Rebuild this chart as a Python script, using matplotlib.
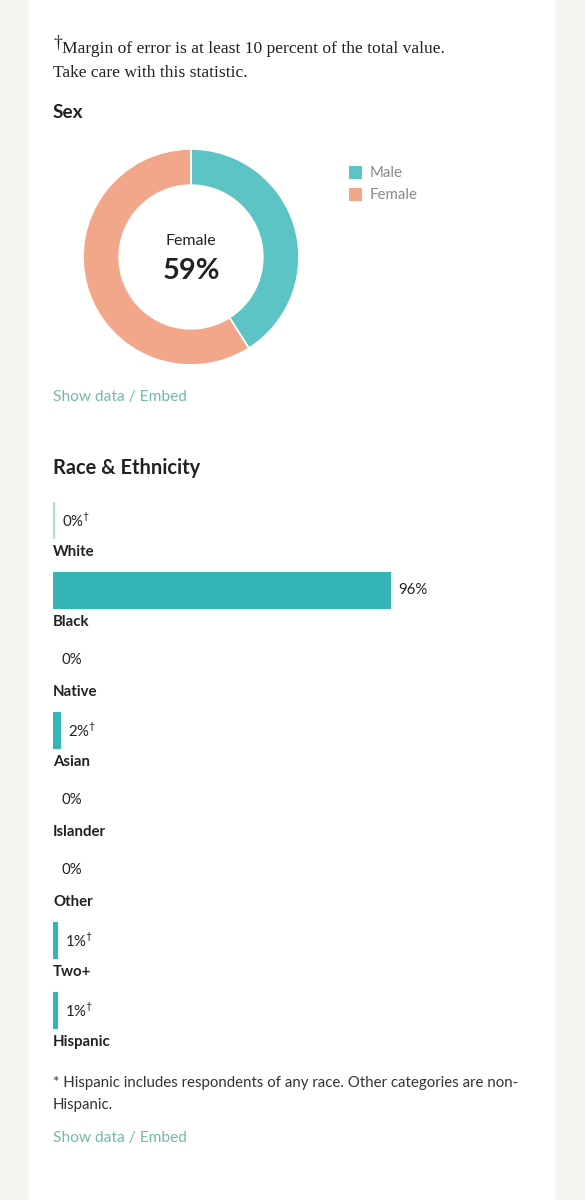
import matplotlib.pyplot as plt
from matplotlib.patches import Rectangle

# ---- data ----
sex_labels = ["Male", "Female"]
sex_values = [41, 59]
sex_colors = ["#5cc4c4", "#f2a68a"]

race_bar_values = [0.3, 96, 0, 2, 0, 0, 1, 1]
race_bar_text = ["0%", "96%", "0%", "2%", "0%", "0%", "1%", "1%"]
race_moe_flag = [True, False, False, True, False, False, True, True]
race_categories = ["White", "Black", "Native", "Asian", "Islander", "Other", "Two+", "Hispanic"]
race_bar_colors = ["#a9dcd9"] + ["#35b5b5"] * 7

W, H = 585, 1200
SANS = "Lato"
SERIF = "Liberation Serif"
DARK = "#222222"
LINK = "#74b9aa"

plt.rcParams["mathtext.fontset"] = "custom"
plt.rcParams["mathtext.rm"] = SANS


def pt(px):
    return px * 0.72


fig = plt.figure(figsize=(W / 100, H / 100), dpi=100, facecolor="#f5f6f1")
base = fig.add_axes([0, 0, 1, 1])
base.set_xlim(0, W)
base.set_ylim(H, 0)
base.axis("off")
base.add_patch(Rectangle((29, 0), 526, H, facecolor="white", edgecolor="none"))

# footnote at top
base.text(53, 48, "†", fontsize=pt(18), family=SERIF, color=DARK, va="baseline")
base.text(62, 53, "Margin of error is at least 10 percent of the total value.",
          fontsize=pt(17.5), family=SERIF, color=DARK, va="baseline")
base.text(53, 77, "Take care with this statistic.",
          fontsize=pt(17.5), family=SERIF, color=DARK, va="baseline")

base.text(53, 112, "Sex", fontsize=pt(19), family=SANS, weight="bold", color=DARK, va="center")

# donut
cx, cy, r = 191, 257, 108
dax = fig.add_axes([(cx - r) / W, 1 - (cy + r) / H, 2 * r / W, 2 * r / H])
dax.pie(sex_values, colors=sex_colors, startangle=90, counterclock=False,
        radius=1, wedgeprops=dict(width=0.335, edgecolor="white", linewidth=1.2))
dax.set_aspect("equal")
dax.set_xlim(-1, 1)
dax.set_ylim(-1, 1)
dax.text(0, 0.15, sex_labels[1], ha="center", va="center", fontsize=pt(16), family=SANS, color=DARK)
dax.text(0, -0.13, f"{sex_values[1]}%", ha="center", va="center", fontsize=pt(29),
         family=SANS, weight="bold", color=DARK)

# legend
for i, (lab, col) in enumerate(zip(sex_labels, sex_colors)):
    y = 172 + i * 22
    base.add_patch(Rectangle((349, y - 6.5), 13, 13, facecolor=col, edgecolor="none"))
    base.text(370, y + 1, lab, fontsize=pt(15), family=SANS, color="#8a8a8a", va="center")

base.text(53, 397, "Show data / Embed", fontsize=pt(15.5), family=SANS, color=LINK, va="center")

base.text(53, 468, "Race & Ethnicity", fontsize=pt(20), family=SANS, weight="bold", color=DARK, va="center")

# bars
row = 70
top = 520 - row / 2
n = len(race_bar_values)
bax = fig.add_axes([53 / W, 1 - (top + n * row) / H, 351 / W, n * row / H])
bax.set_xlim(0, 100)
bax.set_ylim(n - 0.5, -0.5)
bax.axis("off")
ypos = list(range(n))
edge_colors = [c if v > 0 else "none" for v, c in zip(race_bar_values, race_bar_colors)]
bax.barh(ypos, race_bar_values, height=36 / row, color=race_bar_colors,
         edgecolor=edge_colors, linewidth=0.8)
for i in ypos:
    lab = race_bar_text[i] + (r"$^{\dag}$" if race_moe_flag[i] else "")
    bax.annotate(lab, (race_bar_values[i], i), xytext=(6, 0), textcoords="offset points",
                 va="center", ha="left", fontsize=pt(15), family=SANS, color=DARK)
    bax.text(0, i + 32 / row, race_categories[i], va="center", ha="left",
             fontsize=pt(15), family=SANS, weight="bold", color=DARK)

base.text(53, 1083, "* Hispanic includes respondents of any race. Other categories are non-",
          fontsize=pt(15), family=SANS, color="#333333", va="center")
base.text(53, 1105, "Hispanic.", fontsize=pt(15), family=SANS, color="#333333", va="center")
base.text(53, 1138, "Show data / Embed", fontsize=pt(15.5), family=SANS, color=LINK, va="center")

fig.savefig("out.png", dpi=100, facecolor=fig.get_facecolor())
